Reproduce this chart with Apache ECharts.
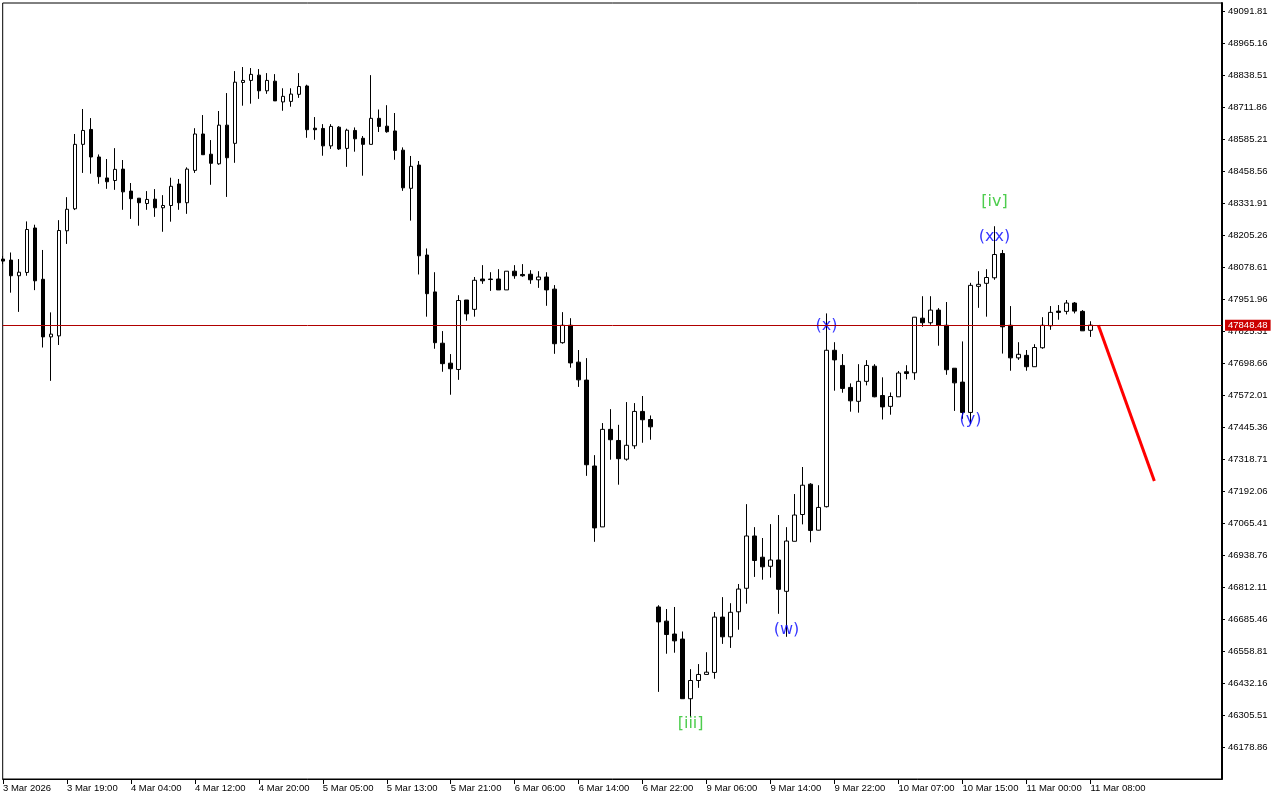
<!DOCTYPE html>
<html>
<head>
<meta charset="utf-8">
<script src="https://cdn.jsdelivr.net/npm/echarts@6/dist/echarts.min.js"></script>
<style>
html,body{margin:0;padding:0;background:#fff;}
#chart{width:1280px;height:800px;}
</style>
</head>
<body>
<div id="chart"></div>
<script>
// ---- Data (hourly candles, index 0 = partially visible first bar) ----
const opens = [48110,48106,48044,48057,48233,48030,47802,47806,48222,48309,48564,48623,48514,48431,48421,48466,48379,48351,48330,48347,
48313,48322,48407,48333,48461,48605,48525,48487,48640,48568,48809,48817,48838,48776,48814,48732,48734,48762,48795,48628,
48627,48558,48632,48548,48619,48588,48564,48667,48636,48617,48541,48390,48482,48126,47980,47777,47698,47673,47948,47911,
48031,48031,48031,47988,48062,48049,48050,48028,48039,47991,47779,47848,47702,47631,47291,47050,47436,47392,47318,47371,
47507,47475,46733,46677,46626,46606,46370,46442,46466,46474,46693,46615,46714,46807,47014,46930,46894,46919,46795,46993,
47099,47219,47037,47130,47749,47689,47602,47547,47626,47686,47570,47527,47565,47664,47660,47876,47858,47908,47848,47678,
47623,47503,48002,48014,48036,48132,47848,47719,47729,47684,47759,47846,47904,47903,47936,47903,47828];
const highs = [48122,48136,48110,48259,48246,48146,47899,48264,48355,48605,48704,48668,48524,48506,48549,48502,48411,48351,48379,48387,
48363,48432,48427,48473,48628,48680,48581,48696,48767,48854,48870,48866,48862,48846,48842,48786,48786,48846,48800,48672,
48644,48644,48636,48626,48631,48597,48838,48702,48719,48688,48552,48518,48498,48152,48058,47825,47734,47967,47948,48039,
48086,48058,48070,48062,48086,48090,48066,48062,48058,48007,47900,47876,47750,47718,47334,47461,47516,47454,47544,47540,
47568,47491,46740,46725,46733,46636,46487,46507,46554,46713,46772,46748,46824,47140,47049,47006,47061,47097,47049,47180,
47287,47223,47215,47895,47781,47734,47618,47694,47710,47694,47642,47582,47667,47690,47880,47963,47963,47916,47940,47678,
47784,48016,48062,48070,48240,48146,47924,47781,47750,47773,47880,47924,47928,47948,47940,47908,47864];
const lows = [48090,47977,47901,48044,47987,47760,47628,47770,48170,48304,48451,48448,48408,48388,48384,48305,48269,48242,48305,48277,
48218,48258,48305,48289,48451,48523,48404,48483,48356,48491,48717,48725,48744,48764,48736,48697,48713,48748,48590,48582,
48519,48546,48542,48475,48535,48440,48564,48613,48610,48503,48380,48262,48049,47882,47755,47664,47573,47632,47866,47882,
48012,47984,47988,47988,48032,48040,48012,47996,47925,47735,47775,47680,47604,47252,46991,47050,47316,47217,47312,47359,
47383,47395,46397,46548,46552,46370,46298,46413,46466,46449,46587,46571,46643,46746,46852,46841,46849,46706,46615,46993,
47060,46989,47036,47127,47589,47581,47506,47502,47610,47563,47475,47494,47565,47634,47632,47842,47850,47767,47652,47509,
47478,47457,47917,47882,48028,47736,47668,47711,47668,47684,47755,47830,47870,47891,47895,47826,47802];
const closes = [48102,48044,48058,48227,48024,47802,47813,48223,48307,48564,48619,48514,48436,48416,48465,48376,48349,48333,48346,48313,
48322,48398,48333,48466,48605,48523,48489,48640,48511,48810,48817,48841,48776,48817,48736,48754,48763,48793,48622,48622,
48558,48635,48546,48620,48586,48564,48667,48635,48614,48540,48392,48477,48123,47973,47779,47696,47676,47946,47893,48026,
48024,48029,47988,48062,48044,48044,48028,48039,47988,47775,47848,47699,47632,47296,47046,47436,47395,47320,47373,47507,
47474,47446,46674,46624,46599,46370,46442,46466,46475,46693,46615,46712,46804,47014,46917,46892,46919,46803,46994,47097,
47215,47036,47127,47749,47711,47598,47549,47626,47689,47565,47525,47566,47659,47657,47880,47858,47908,47848,47672,47620,
47503,48006,48010,48037,48128,47842,47719,47733,47684,47760,47848,47899,47899,47936,47904,47826,47848.48];

const xLabels = ['3 Mar 2026','3 Mar 19:00','4 Mar 04:00','4 Mar 12:00','4 Mar 20:00','5 Mar 05:00','5 Mar 13:00','5 Mar 21:00',
'6 Mar 06:00','6 Mar 14:00','6 Mar 22:00','9 Mar 06:00','9 Mar 14:00','9 Mar 22:00','10 Mar 07:00','10 Mar 15:00','11 Mar 00:00','11 Mar 08:00'];
const xLabelEvery = 8; // bars between time labels

const yTicks = [46178.86,46305.51,46432.16,46558.81,46685.46,46812.11,46938.76,47065.41,47192.06,47318.71,47445.36,47572.01,
47698.66,47825.31,47951.96,48078.61,48205.26,48331.91,48458.56,48585.21,48711.86,48838.51,48965.16,49091.81];

const priceNow = 47848.48;

// projected move (red line)
const projIdx = [137, 144];
const projPrice = [47848.48, 47232];

// Elliott wave labels
const waveText = ['[iii]','(w)','(x)','(y)','(xx)','[iv]'];
const waveIdx = [86, 98, 103, 121, 124, 124];
const wavePrice = [46270, 46644, 47847, 47472, 48196, 48336];
const waveDegree = ['minor','sub','sub','sub','sub','minor'];

// ---- Chart ----
const axisFont = 'Liberation Sans';
const degreeColor = { minor: '#22c022', sub: '#0000ff' };

const candleData = opens.map((o, i) => [i, o, closes[i], lows[i], highs[i]]);
const tickIdx = xLabels.map((_, i) => i * xLabelEvery);

const chart = echarts.init(document.getElementById('chart'), null, { renderer: 'canvas' });
chart.setOption({
  animation: false,
  backgroundColor: '#ffffff',
  grid: {
    left: 2, right: 58, top: 3, bottom: 21,
    show: true, borderColor: '#000', borderWidth: 1, backgroundColor: '#fff'
  },
  xAxis: {
    type: 'value',
    min: -0.0375,
    max: 152.4625,
    splitLine: { show: false },
    axisLine: { show: true, onZero: false, lineStyle: { color: '#000', width: 1 } },
    axisTick: { show: true, length: 5, customValues: tickIdx, lineStyle: { color: '#000' } },
    axisLabel: {
      customValues: tickIdx,
      formatter: v => xLabels[Math.round(v / xLabelEvery)] || '',
      align: 'left', margin: 4, color: '#000',
      fontFamily: axisFont, fontSize: 9.5
    }
  },
  yAxis: {
    type: 'value',
    position: 'right',
    min: 46052.21,
    max: 49123.47,
    splitLine: { show: false },
    axisLine: { show: true, onZero: false, lineStyle: { color: '#000', width: 2 } },
    axisTick: { show: true, length: 3, customValues: yTicks, lineStyle: { color: '#000' } },
    axisLabel: {
      customValues: yTicks,
      formatter: v => Number(v).toFixed(2),
      margin: 6, color: '#000',
      fontFamily: axisFont, fontSize: 9.5
    }
  },
  series: [
    {
      type: 'line',
      z: 1,
      clip: false,
      data: projIdx.map((x, i) => [x, projPrice[i]]),
      symbol: 'none',
      lineStyle: { color: '#ff0000', width: 3 },
      markLine: {
        silent: true,
        animation: false,
        symbol: ['none', 'none'],
        data: [{ yAxis: priceNow }],
        lineStyle: { color: '#b00000', width: 1, type: 'solid' },
        label: {
          show: true,
          position: 'end',
          distance: 3,
          formatter: priceNow.toFixed(2),
          backgroundColor: '#cc0000',
          color: '#fff',
          padding: [1, 3, 0, 3],
          lineHeight: 10,
          fontFamily: axisFont,
          fontSize: 9.5
        }
      }
    },
    {
      type: 'candlestick',
      z: 2,
      clip: true,
      data: candleData,
      encode: { x: 0, y: [1, 2, 3, 4] },
      barWidth: 4,
      itemStyle: {
        color: '#ffffff', color0: '#000000',
        borderColor: '#000000', borderColor0: '#000000', borderWidth: 1
      }
    },
    {
      type: 'scatter',
      z: 3,
      symbol: 'circle',
      symbolSize: 2,
      itemStyle: { color: 'rgba(0,0,0,0)' },
      data: waveText.map((t, i) => ({
        value: [waveIdx[i], wavePrice[i]],
        label: { formatter: t, color: degreeColor[waveDegree[i]] }
      })),
      label: {
        show: true,
        position: 'inside',
        fontFamily: 'DejaVu Sans',
        fontSize: 16
      }
    }
  ]
});
</script>
</body>
</html>
